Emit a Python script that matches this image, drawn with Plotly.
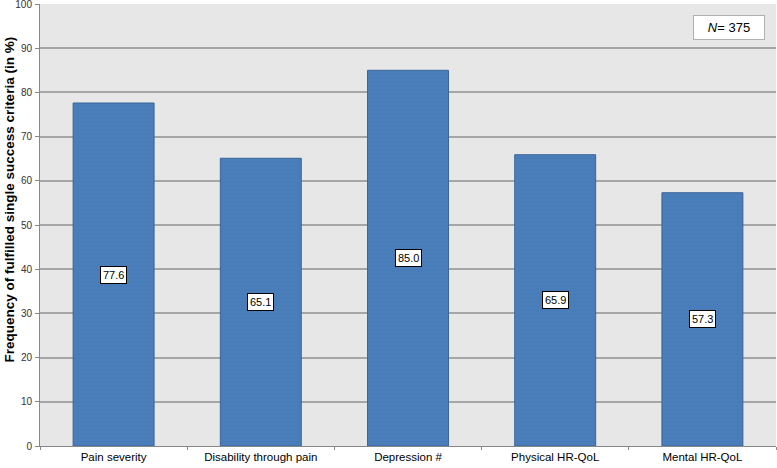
import plotly.graph_objects as go

categories = ["Pain severity", "Disability through pain", "Depression #", "Physical HR-QoL", "Mental HR-QoL"]
values = [77.6, 65.1, 85.0, 65.9, 57.3]
y_ticks = [0, 10, 20, 30, 40, 50, 60, 70, 80, 90, 100]

fig = go.Figure()
fig.add_trace(go.Bar(
    x=categories, y=values, width=0.55,
    marker=dict(color="#4a7ebb", line=dict(color="#3a649a", width=1),
                pattern=dict(shape=".", fgcolor="#3f72ae", size=4, solidity=0.15)),
    hoverinfo="skip",
))

for c, v in zip(categories, values):
    fig.add_annotation(x=c, y=v / 2, text=f"{v:.1f}", showarrow=False,
                       bgcolor="white", bordercolor="black", borderwidth=1, borderpad=2,
                       font=dict(family="Liberation Sans, Arial", size=11, color="black"))

fig.add_annotation(xref="paper", yref="paper", x=0.985, y=0.975, xanchor="right", yanchor="top",
                   text="<i>N</i>= 375", showarrow=False, bgcolor="white",
                   bordercolor="#b0b0b0", borderwidth=1, borderpad=3, width=64, height=17,
                   font=dict(family="Liberation Sans, Arial", size=13, color="black"))

fig.add_annotation(xref="paper", yref="paper", x=-0.042, y=0.558, xanchor="center", yanchor="middle",
                   text="<b>Frequency of fulfilled single success criteria (in %)</b>",
                   textangle=-90, showarrow=False,
                   font=dict(family="Liberation Sans, Arial", size=13.5, color="black"))

fig.update_layout(
    width=777, height=468,
    margin=dict(l=40, r=1, t=4, b=22),
    paper_bgcolor="white", plot_bgcolor="#e7e7e7",
    showlegend=False,
    font=dict(family="Liberation Sans, Arial", size=10, color="black"),
    bargap=0.45,
)
fig.update_xaxes(showgrid=False, showline=True, linecolor="#888888", linewidth=1, automargin=False,
                 ticks="outside", ticklen=3, tickcolor="#888888", tickson="boundaries",
                 tickfont=dict(size=11.5), fixedrange=True)
fig.update_yaxes(range=[0, 100], tickvals=y_ticks, showgrid=True, gridcolor="#a6a6a6", gridwidth=1.5,
                 showline=True, linecolor="#888888", linewidth=1, ticks="outside", ticklen=4,
                 automargin=False, ticklabelstandoff=1, ticklabeloverflow="allow",
                 tickcolor="#888888", tickfont=dict(size=10, color="#333333"), zeroline=False,
                 fixedrange=True)

fig.write_html("out.html", config={"displayModeBar": False},
               post_script="document.body.style.margin='0';document.body.style.overflow='hidden';")
